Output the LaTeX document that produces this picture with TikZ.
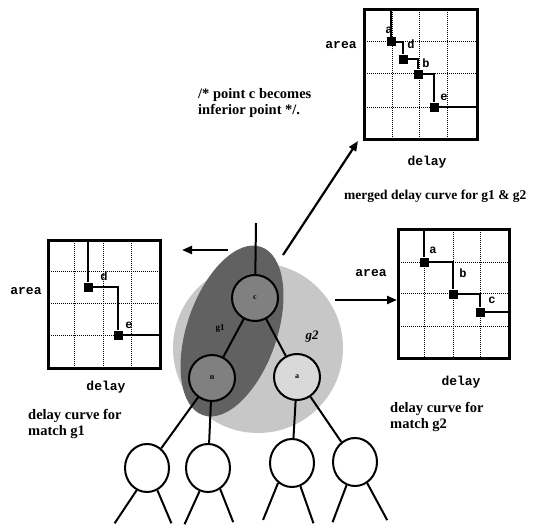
\documentclass[tikz,border=0pt]{standalone}
\usepackage{fontspec}
\setmainfont{Liberation Serif}
\setmonofont{Liberation Mono}
\usetikzlibrary{arrows.meta,shapes.geometric}
\begin{document}
\begin{tikzpicture}[x=1pt,y=-1pt,
  frame/.style={draw, line width=2.8pt, rectangle, inner sep=0pt, anchor=north west},
  gridline/.style={densely dotted, line width=1pt},
  pt/.style={fill=black, rectangle, minimum size=9pt, inner sep=0pt},
  curve/.style={line width=2.2pt},
  ptlabel/.style={font=\ttfamily\bfseries\fontsize{12}{12}\selectfont, inner sep=0pt},
  axislabel/.style={font=\ttfamily\bfseries\fontsize{13}{13}\selectfont, inner sep=0pt},
  caption/.style={font=\bfseries\fontsize{14.5}{16.5}\selectfont, align=left, inner sep=0pt, anchor=north west},
  bigarrow/.style={line width=2.2pt, -{Triangle[length=10pt,width=8pt]}},
  tree/.style={line width=2pt},
  tnode/.style={draw, circle, line width=2pt, minimum size=46pt, inner sep=0pt, font=\bfseries\fontsize{8}{8}\selectfont},
  leaf/.style={draw, ellipse, line width=2pt, minimum width=44pt, minimum height=48pt, inner sep=0pt, fill=white},
]
\useasboundingbox (0,0) rectangle (537,527);

% ---------- shaded regions ----------
\fill[black!22] (258,348) circle (85);
\fill[black!62, rotate around={71:(232,331)}] (232,331) ellipse [x radius=89, y radius=45];

% ---------- merged box (top right) ----------
\node[frame, minimum width=113pt, minimum height=130pt] (B1) at (363,8) {};
\foreach \x in {392,419,447} \draw[gridline] (\x,8) -- (\x,138);
\foreach \y in {42,73,107} \draw[gridline] (363,\y) -- (476,\y);
\coordinate (t1) at (391,8);
\node[pt] (ma) at (391,42) {};
\node[pt] (md) at (403,59) {};
\node[pt] (mb) at (418,74) {};
\node[pt] (me) at (434,107) {};
\draw[curve] (t1) -- (ma);
\draw[curve] (ma) -| (md);
\draw[curve] (md) -| (mb);
\draw[curve] (mb) -| (me);
\draw[curve] (me) -- (me -| B1.east);
\node[ptlabel] (lma) at (389,30) {a};
\node[ptlabel] (lmd) at (411,44) {d};
\node[ptlabel] (lmb) at (426,63) {b};
\node[ptlabel] (lme) at (444,97) {e};
\node[axislabel] (ar1) at (341,45) {area};
\node[axislabel] (de1) at (427,162) {delay};

% ---------- g1 box (left) ----------
\node[frame, minimum width=112pt, minimum height=128pt] (B2) at (47,239) {};
\foreach \x in {74,103,131} \draw[gridline] (\x,239) -- (\x,367);
\foreach \y in {271,303,335} \draw[gridline] (47,\y) -- (159,\y);
\coordinate (t2) at (88,239);
\node[pt] (ld) at (88,287) {};
\node[pt] (le) at (118,335) {};
\draw[curve] (t2) -- (ld);
\draw[curve] (ld) -| (le);
\draw[curve] (le) -- (le -| B2.east);
\node[ptlabel] (lld) at (104,276) {d};
\node[ptlabel] (lle) at (129,325) {e};
\node[axislabel] (ar2) at (26,291) {area};
\node[axislabel] (de2) at (106,387) {delay};

% ---------- g2 box (right) ----------
\node[frame, minimum width=111pt, minimum height=129pt] (B3) at (397,228) {};
\foreach \x in {424,453,480} \draw[gridline] (\x,228) -- (\x,357);
\foreach \y in {262,293,326} \draw[gridline] (397,\y) -- (508,\y);
\coordinate (t3) at (424,228);
\node[pt] (ra) at (424,262) {};
\node[pt] (rb) at (453,294) {};
\node[pt] (rc) at (480,312) {};
\draw[curve] (t3) -- (ra);
\draw[curve] (ra) -| (rb);
\draw[curve] (rb) -| (rc);
\draw[curve] (rc) -- (rc -| B3.east);
\node[ptlabel] (lra) at (433,250) {a};
\node[ptlabel] (lrb) at (463,273) {b};
\node[ptlabel] (lrc) at (492,300) {c};
\node[axislabel] (ar3) at (371,273) {area};
\node[axislabel] (de3) at (461,382) {delay};

% ---------- captions ----------
\node[caption] (cap1) at (198,88) {/* point c becomes\\inferior point */.};
\node[caption, anchor=west, font=\bfseries\fontsize{13.5}{15}\selectfont] (cap2) at (344,196) {merged delay curve for g1 \& g2};
\node[caption] (cap3) at (28,409) {delay curve for\\match g1};
\node[caption] (cap4) at (390,402) {delay curve for\\match g2};

% ---------- tree ----------
\node[tnode, fill=black!50] (c) at (255,298) {c};
\node[tnode, fill=black!50] (n) at (212,378) {n};
\node[tnode, fill=black!15] (a) at (297,377) {a};
\node[leaf] (l1) at (147,468) {};
\node[leaf] (l2) at (208,468) {};
\node[leaf] (l3) at (292,463) {};
\node[leaf] (l4) at (355,462) {};
\node[font=\bfseries\fontsize{9}{9}\selectfont, inner sep=0pt] (g1) at (220,329) {g1};
\node[font=\bfseries\itshape\fontsize{13}{13}\selectfont, inner sep=0pt] (g2) at (312,337) {g2};

\coordinate (ctop) at (256,223);
\draw[tree] (c) -- (ctop);
\draw[tree] (c) -- (n);
\draw[tree] (c) -- (a);
\draw[tree] (n) -- (l1);
\draw[tree] (n) -- (l2);
\draw[tree] (a) -- (l3);
\draw[tree] (a) -- (l4);
\draw[tree] (l1.245) -- ++(-22,33);
\draw[tree] (l1.295) -- ++(14,33);
\draw[tree] (l2.250) -- ++(-15,33);
\draw[tree] (l2.300) -- ++(13,33);
\draw[tree] (l3.235) -- ++(-15,37);
\draw[tree] (l3.290) -- ++(13,37);
\draw[tree] (l4.250) -- ++(-14,37);
\draw[tree] (l4.300) -- ++(20,37);

% ---------- arrows ----------
\coordinate (s1) at (283,255);
\coordinate (e1) at (358,141);
\draw[bigarrow] (s1) -- (e1);
\coordinate (s2) at (228,250);
\coordinate (e2) at (182,250);
\draw[bigarrow] (s2) -- (e2);
\coordinate (s3) at (335,300);
\draw[bigarrow] (s3) -- (s3 -| B3.west);
\end{tikzpicture}
\end{document}
